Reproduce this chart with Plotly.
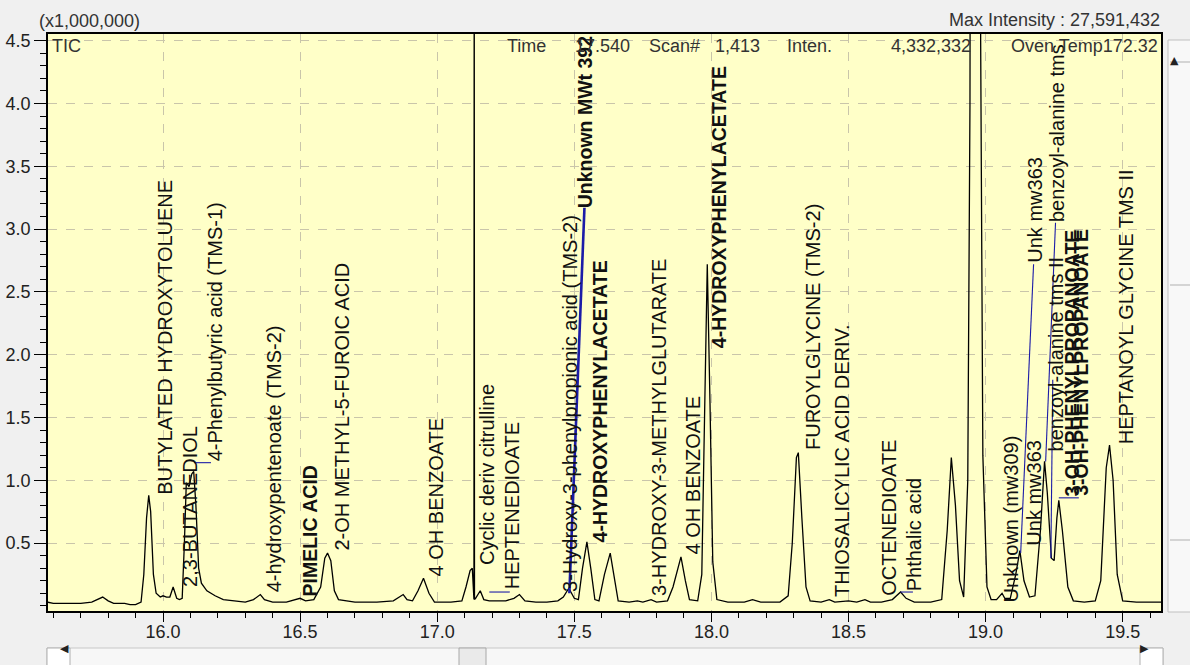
import plotly.graph_objects as go

# ---------------- data (retention time in min, intensity in x1,000,000) ----------------
rt = [15.578, 15.60, 15.65, 15.70, 15.74, 15.76, 15.78, 15.80, 15.82, 15.86, 15.88, 15.90, 15.92,
      15.93, 15.94, 15.948, 15.955, 15.965, 15.975, 15.99, 16.00, 16.013, 16.025, 16.037, 16.05,
      16.06, 16.07, 16.078, 16.085, 16.095, 16.105, 16.112, 16.12, 16.13, 16.14, 16.16, 16.19,
      16.22, 16.26, 16.30, 16.33, 16.355, 16.37, 16.40, 16.45, 16.48, 16.50, 16.52, 16.55,
      16.575, 16.59, 16.60, 16.612, 16.625, 16.64, 16.70, 16.78, 16.84, 16.86, 16.876, 16.89,
      16.91, 16.93, 16.95, 16.97, 16.99, 17.05, 17.09, 17.105, 17.12, 17.128, 17.134, 17.135,
      17.136, 17.14, 17.157, 17.17, 17.19, 17.22, 17.25, 17.28, 17.30, 17.32, 17.36, 17.40,
      17.44, 17.46, 17.48, 17.50, 17.515, 17.53, 17.546, 17.56, 17.575, 17.59, 17.61, 17.631,
      17.645, 17.66, 17.70, 17.73, 17.75, 17.78, 17.80, 17.84, 17.86, 17.889, 17.905, 17.92,
      17.95, 17.965, 17.975, 17.985, 17.995, 18.005, 18.02, 18.06, 18.12, 18.15, 18.18, 18.25,
      18.28, 18.295, 18.31, 18.317, 18.33, 18.345, 18.36, 18.40, 18.43, 18.45, 18.50, 18.53,
      18.56, 18.58, 18.62, 18.66, 18.69, 18.71, 18.74, 18.80, 18.84, 18.86, 18.875, 18.89,
      18.905, 18.92, 18.935, 18.943, 18.95, 18.963, 18.975, 18.982, 18.99, 19.005, 19.02,
      19.04, 19.06, 19.07,
      19.09, 19.11, 19.125, 19.14, 19.16, 19.18, 19.20, 19.215, 19.225, 19.24, 19.25, 19.26,
      19.267, 19.28, 19.30, 19.32, 19.36, 19.40, 19.42, 19.44, 19.452, 19.465, 19.48, 19.50,
      19.55, 19.60, 19.64]
tic = [0.03, 0.02, 0.02, 0.02, 0.03, 0.05, 0.07, 0.04, 0.02, 0.02, 0.01, 0.01, 0.03,
       0.25, 0.70, 0.88, 0.75, 0.25, 0.10, 0.07, 0.08, 0.07, 0.07, 0.15, 0.06,
       0.05, 0.06, 0.50, 0.98, 0.95, 1.05, 1.07, 0.80, 0.30, 0.18, 0.12, 0.08,
       0.05, 0.04, 0.03, 0.05, 0.09, 0.05, 0.03, 0.03, 0.05, 0.06, 0.04, 0.05,
       0.15, 0.38, 0.42, 0.36, 0.12, 0.05, 0.03, 0.03, 0.04, 0.07, 0.09, 0.05,
       0.04, 0.12, 0.22, 0.10, 0.03, 0.03, 0.04, 0.15, 0.28, 0.30, 0.05, 6.00,
       0.05, 0.06, 0.12, 0.05, 0.04, 0.04, 0.04, 0.06, 0.09, 0.04, 0.03, 0.03,
       0.04, 0.07, 0.14, 0.06, 0.05, 0.30, 0.51, 0.30, 0.05, 0.04, 0.25, 0.42,
       0.25, 0.04, 0.03, 0.04, 0.03, 0.05, 0.03, 0.04, 0.15, 0.39, 0.20, 0.05,
       0.04, 0.25, 1.50, 2.72, 1.60, 0.35, 0.05, 0.03, 0.03, 0.05, 0.03, 0.03,
       0.08, 0.50, 1.18, 1.22, 0.70, 0.15, 0.04, 0.03, 0.05, 0.03, 0.04, 0.03,
       0.05, 0.03, 0.03, 0.05, 0.11, 0.06, 0.03, 0.03, 0.05, 0.60, 1.18, 0.80,
       0.20, 0.07, 1.00, 4.00, 14.0, 27.59, 14.0, 4.50, 1.20, 0.15, 0.05,
       0.05, 0.10, 0.06,
       0.06, 0.25, 0.44, 0.20, 0.07, 0.08, 0.60, 1.15, 0.90, 0.38, 0.36, 0.70,
       0.84, 0.60, 0.15, 0.04, 0.03, 0.04, 0.20, 1.10, 1.28, 1.00, 0.25, 0.04,
       0.03, 0.03, 0.03]

label_text = ["BUTYLATED HYDROXYTOLUENE", "2,3-BUTANEDIOL", "4-Phenylbutyric acid (TMS-1)",
              "4-hydroxypentenoate (TMS-2)", "PIMELIC ACID", "2-OH METHYL-5-FUROIC ACID",
              "4 OH BENZOATE", "Cyclic deriv citrulline", "HEPTENEDIOATE",
              "3-Hydroxy-3-phenylpropionic acid (TMS-2)", "Unknown MWt 392",
              "4-HYDROXYPHENYLACETATE", "3-HYDROXY-3-METHYLGLUTARATE", "4 OH BENZOATE",
              "4-HYDROXYPHENYLACETATE", "FUROYLGLYCINE (TMS-2)", "THIOSALICYLIC ACID DERIV.",
              "OCTENEDIOATE", "Phthalic acid", "Unknown (mw309)", "Unk mw363", "Unk mw363",
              "benzoyl-alanine tms II", "benzoyl-alanine tms", "3-OH-PHENYLPROPANOATE",
              "3-OH-PHENYLPROPANOATE", "HEPTANOYL GLYCINE TMS II"]
label_rt = [16.007, 16.099, 16.190, 16.403, 16.536, 16.652, 16.999, 17.181, 17.273, 17.485,
            17.540, 17.595, 17.807, 17.934, 18.026, 18.373, 18.477, 18.647, 18.738, 19.091,
            19.176, 19.182, 19.258, 19.258, 19.316, 19.347, 19.511]
label_base = [0.88, 0.14, 1.14, 0.10, 0.07, 0.43, 0.23, 0.32, 0.12, 0.10,
              3.16, 0.50, 0.07, 0.40, 2.04, 1.23, 0.06, 0.07, 0.11, 0.02,
              0.47, 2.72, 1.22, 3.05, 0.86, 0.87, 1.28]
label_bold = [False, False, False, False, True, False, False, False, False, False,
              True, True, False, False, True, False, False, False, False, False,
              False, False, False, False, True, True, False]

# label leader lines: from peak (rt0, h0) to label (rt1, h1)
conn_rt0 = [16.113, 17.190, 17.482, 18.690, 19.128, 19.219, 19.238, 19.267]
conn_h0 = [1.14, 0.11, 0.10, 0.11, 0.42, 1.15, 0.38, 0.86]
conn_rt1 = [16.175, 17.265, 17.537, 18.735, 19.175, 19.255, 19.245, 19.340]
conn_h1 = [1.14, 0.11, 3.17, 0.11, 2.72, 3.05, 1.80, 0.86]
conn_thick = [False, False, True, False, False, False, False, False]

x_ticks = [16.0, 16.5, 17.0, 17.5, 18.0, 18.5, 19.0, 19.5]
y_ticks = [0.5, 1.0, 1.5, 2.0, 2.5, 3.0, 3.5, 4.0, 4.5]

# ---------------- figure ----------------
W, H = 1190, 665
L, R, T, B = 48, 1161, 34, 611
FONT = "Liberation Sans, Arial, sans-serif"


def px(x):
    return (x - L) / (R - L)


def py(y):
    return (B - y) / (B - T)


fig = go.Figure()

fig.add_trace(go.Scatter(x=rt, y=tic, mode="lines",
                         line=dict(color="#000000", width=1.3),
                         hoverinfo="skip", showlegend=False))

for thick in (False, True):
    xs, ys = [], []
    for a, b, c, d, k in zip(conn_rt0, conn_h0, conn_rt1, conn_h1, conn_thick):
        if k == thick:
            xs += [a, c, None]
            ys += [b, d, None]
    fig.add_trace(go.Scatter(x=xs, y=ys, mode="lines",
                             line=dict(color="#1c1ca8", width=2.6 if thick else 1.1),
                             hoverinfo="skip", showlegend=False))

for txt, t, b, bold in zip(label_text, label_rt, label_base, label_bold):
    fig.add_annotation(x=t, y=b, xref="x", yref="y",
                       text=f"<b>{txt}</b>" if bold else txt,
                       textangle=-90, xanchor="center", yanchor="bottom",
                       showarrow=False, borderpad=0,
                       font=dict(family=FONT, size=19.5 if bold else 20, color="#111111"))

# header texts
hdr = dict(family=FONT, size=18, color="#333333")
fig.add_annotation(x=px(37), y=py(21), xref="paper", yref="paper", text="(x1,000,000)",
                   xanchor="left", yanchor="middle", showarrow=False, font=hdr)
fig.add_annotation(x=px(1162), y=py(20), xref="paper", yref="paper",
                   text="Max Intensity : 27,591,432",
                   xanchor="right", yanchor="middle", showarrow=False, font=hdr)
for txt, xp, anc in [("TIC", 50, "left"), ("Time", 505, "left"), ("17.540", 573, "left"),
                     ("Scan#", 647, "left"), ("1,413", 713, "left"), ("Inten.", 785, "left"),
                     ("4,332,332", 973, "right"), ("Oven Temp172.32", 1160, "right")]:
    fig.add_annotation(x=px(xp), y=py(46), xref="paper", yref="paper", text=txt,
                       xanchor=anc, yanchor="middle", showarrow=False, font=hdr)

# window chrome: bottom scrollbar and right toolbar strip
shapes = [
    dict(type="rect", xref="paper", yref="paper", x0=px(47), x1=px(1163), y0=py(648), y1=py(666),
         fillcolor="#f7f7f7", line=dict(color="#c8c8c8", width=1), layer="above"),
    dict(type="rect", xref="paper", yref="paper", x0=px(47), x1=px(70), y0=py(648), y1=py(666),
         fillcolor="#ffffff", line=dict(color="#b0b0b0", width=1), layer="above"),
    dict(type="rect", xref="paper", yref="paper", x0=px(459), x1=px(486), y0=py(648), y1=py(666),
         fillcolor="#eaeaea", line=dict(color="#a8a8a8", width=1), layer="above"),
    dict(type="rect", xref="paper", yref="paper", x0=px(1140), x1=px(1163), y0=py(648), y1=py(666),
         fillcolor="#ffffff", line=dict(color="#b0b0b0", width=1), layer="above"),
    dict(type="rect", xref="paper", yref="paper", x0=px(1168), x1=px(1192), y0=py(40), y1=py(612),
         fillcolor="#f8f8f8", line=dict(color="#c0c0c0", width=1), layer="above"),
    dict(type="line", xref="paper", yref="paper", x0=px(1170), x1=px(1192), y0=py(62), y1=py(62),
         line=dict(color="#b0b0b0", width=1), layer="above"),
    dict(type="line", xref="paper", yref="paper", x0=px(1170), x1=px(1192), y0=py(285), y1=py(285),
         line=dict(color="#b0b0b0", width=1), layer="above"),
    dict(type="line", xref="paper", yref="paper", x0=px(1170), x1=px(1192), y0=py(540), y1=py(540),
         line=dict(color="#b0b0b0", width=1), layer="above"),
]
fig.update_layout(shapes=shapes)
arrow_font = dict(family="DejaVu Sans", size=11, color="#222222")
fig.add_annotation(x=px(58), y=py(657), xref="paper", yref="paper", text="◀",
                   showarrow=False, font=arrow_font)
fig.add_annotation(x=px(1151), y=py(657), xref="paper", yref="paper", text="▶",
                   showarrow=False, font=arrow_font)
fig.add_annotation(x=px(1181), y=py(52), xref="paper", yref="paper", text="▲",
                   showarrow=False, font=arrow_font)

fig.update_layout(
    width=W, height=H,
    margin=dict(l=L, r=W - R, t=T, b=H - B, pad=0, autoexpand=False),
    paper_bgcolor="#f0f0f0",
    plot_bgcolor="#ffffc8",
    showlegend=False,
    font=dict(family=FONT, size=18, color="#222222"),
    xaxis=dict(range=[15.5806, 19.6397], tickmode="array", tickvals=x_ticks,
               ticktext=[f"{v:.1f}" for v in x_ticks], automargin=False,
               ticks="outside", ticklen=9, tickwidth=1.3, tickcolor="#000000",
               ticklabelstandoff=-5,
               showline=True, linecolor="#000000", linewidth=1.6, mirror=True,
               showgrid=True, gridcolor="#c9c5aa", gridwidth=1, griddash="dash",
               zeroline=False, tickfont=dict(family=FONT, size=18, color="#222222"),
               minor=dict(dtick=0.1, tick0=16.0, ticks="outside", ticklen=5,
                          tickwidth=1.3, tickcolor="#000000", showgrid=False)),
    yaxis=dict(range=[-0.041, 4.553], tickmode="array", tickvals=y_ticks,
               ticktext=[f"{v:.1f}" for v in y_ticks], automargin=False,
               ticks="outside", ticklen=12, tickwidth=1.3, tickcolor="#000000",
               showline=True, linecolor="#000000", linewidth=1.6, mirror=True,
               showgrid=True, gridcolor="#c9c5aa", gridwidth=1, griddash="dash",
               zeroline=False, tickfont=dict(family=FONT, size=18, color="#222222"),
               minor=dict(dtick=0.1, tick0=0.0, ticks="outside", ticklen=6,
                          tickwidth=1.3, tickcolor="#000000", showgrid=False)),
)

fig.write_html("out.html", config={"displayModeBar": False},
               post_script="document.body.style.margin='0';document.body.style.overflow='hidden';")
